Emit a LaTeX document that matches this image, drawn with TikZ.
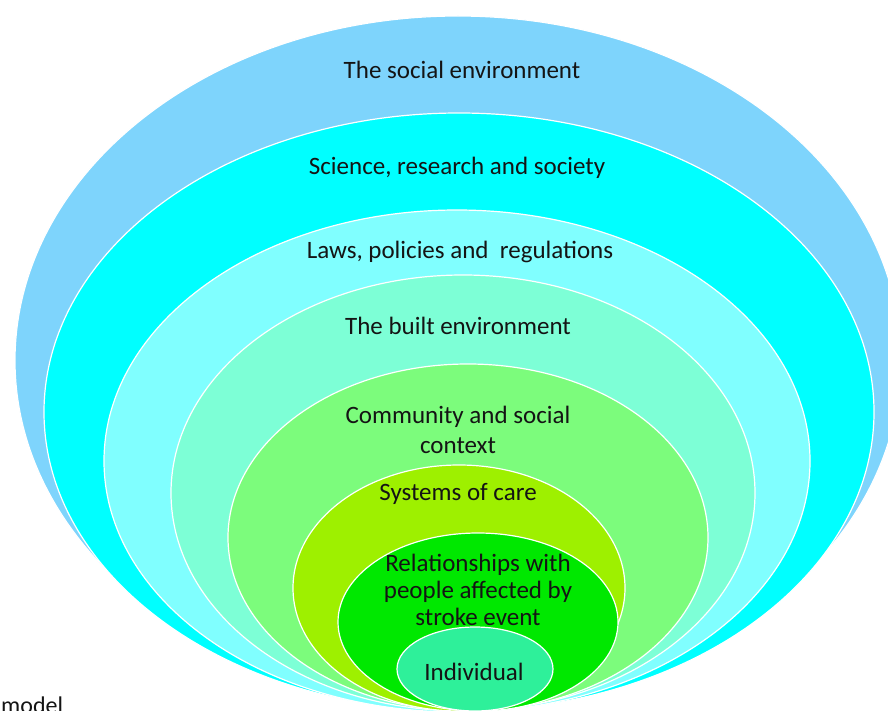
\documentclass[tikz,border=0pt]{standalone}
\usepackage{fontspec}
\setmainfont{Carlito}
\definecolor{cOuter}{HTML}{7ED4FC}
\definecolor{cSci}{HTML}{00FFFF}
\definecolor{cLaws}{HTML}{80FFFF}
\definecolor{cBuilt}{HTML}{7DFFD6}
\definecolor{cComm}{HTML}{7CFC7C}
\definecolor{cSys}{HTML}{9EF000}
\definecolor{cRel}{HTML}{00E800}
\definecolor{cInd}{HTML}{2EF09A}
\definecolor{cText}{HTML}{141414}
\tikzset{
  ring/.style={draw=white, line width=1.2pt},
  lbl/.style={text=cText, font=\fontsize{25}{30}\selectfont, align=center, inner sep=0pt},
}
\begin{document}
\begin{tikzpicture}[x=1pt,y=-1pt]
\useasboundingbox (0,0) rectangle (888,711);
\clip (0,0) rectangle (888,711);
\fill[white] (0,0) rectangle (888,711);
\draw[ring, fill=cOuter] (458,360.5) ellipse [x radius=443pt, y radius=344.5pt];
\draw[ring, fill=cSci] (459,412) ellipse [x radius=415pt, y radius=299pt];
\draw[ring, fill=cLaws] (457,461) ellipse [x radius=353pt, y radius=251pt];
\draw[ring, fill=cBuilt] (463,493) ellipse [x radius=292pt, y radius=218pt];
\draw[ring, fill=cComm] (468,537.5) ellipse [x radius=240pt, y radius=173.5pt];
\draw[ring, fill=cSys] (459,588) ellipse [x radius=166pt, y radius=123pt];
\draw[ring, fill=cRel] (478,622) ellipse [x radius=140pt, y radius=89pt];
\draw[ring, fill=cInd] (475,669) ellipse [x radius=78pt, y radius=42pt];
\node[lbl] (social) at (462,70) {The social environment};
\node[lbl] (science) at (457,168) {Science, research and society};
\node[lbl] (laws) at (460,252) {Laws, policies and\ \ regulations};
\node[lbl] (built) at (458,326) {The built environment};
\node[lbl] (comm) at (458,430) {Community and social\\context};
\node[lbl] (sys) at (458,494) {Systems of care};
\node[lbl, font=\fontsize{25}{27}\selectfont] (rel) at (478,590) {Relationships with\\people affected by\\stroke event};
\node[lbl] (ind) at (474,672) {Individual};
\node[text=cText, font=\fontsize{24}{28}\selectfont, anchor=base west, inner sep=0pt] (model) at (1,713.5) {model};
\end{tikzpicture}
\end{document}
